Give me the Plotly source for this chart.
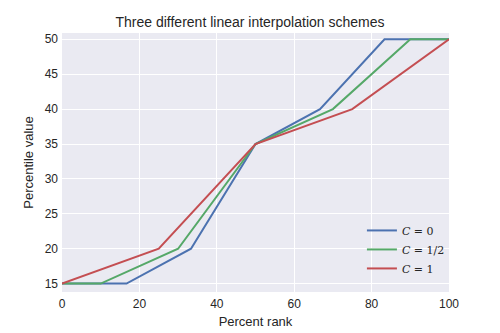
import plotly.graph_objects as go

values = [15, 20, 35, 40, 50]
rank_c0 = [0, 16.667, 33.333, 50, 66.667, 83.333, 100]
val_c0 = [15, 15, 20, 35, 40, 50, 50]
rank_c05 = [0, 10, 30, 50, 70, 90, 100]
val_c05 = [15, 15, 20, 35, 40, 50, 50]
rank_c1 = [0, 25, 50, 75, 100]
val_c1 = [15, 20, 35, 40, 50]

series = [
    ("<i>C</i> = 0", rank_c0, val_c0, "#4C72B0"),
    ("<i>C</i> = 1/2", rank_c05, val_c05, "#55A868"),
    ("<i>C</i> = 1", rank_c1, val_c1, "#C44E52"),
]

fig = go.Figure()
for name, x, y, c in series:
    fig.add_trace(go.Scatter(x=x, y=y, mode="lines", name=name,
                             line=dict(color=c, width=2)))

fig.update_layout(
    width=500, height=333,
    margin=dict(l=62, r=51, t=33, b=41),
    paper_bgcolor="white", plot_bgcolor="#EAEAF2",
    font=dict(family="Liberation Sans, Arial", color="#262626", size=12),
    title=dict(text="Three different linear interpolation schemes", x=0.5, xanchor="center",
               y=0.935, yanchor="middle", font=dict(size=14, color="#262626")),
    legend=dict(x=0.775, y=0.035, xanchor="left", yanchor="bottom", bgcolor="rgba(0,0,0,0)",
                font=dict(family="DejaVu Serif, Liberation Serif", size=11, color="#262626"),
                tracegroupgap=0, itemwidth=30),
    showlegend=True,
)
fig.update_xaxes(range=[0, 100], tickvals=[0, 20, 40, 60, 80, 100], showgrid=True, gridcolor="white",
                 gridwidth=1, zeroline=False, showline=False, ticks="", ticklabelstandoff=3,
                 automargin=False,
                 title=dict(text="Percent rank", font=dict(size=13), standoff=6))
fig.update_yaxes(range=[13.8, 50.9], tickvals=[15, 20, 25, 30, 35, 40, 45, 50], showgrid=True,
                 gridcolor="white", gridwidth=1, zeroline=False, showline=False, ticks="",
                 ticklabelstandoff=3, automargin=False,
                 title=dict(text="Percentile value", font=dict(size=13), standoff=8))

fig.write_html("out.html")
